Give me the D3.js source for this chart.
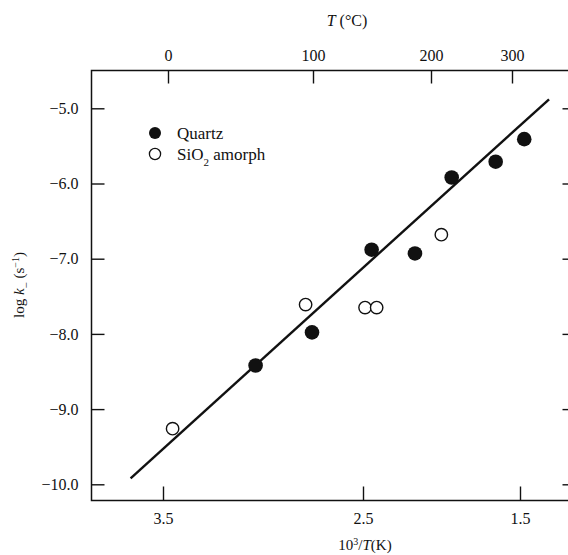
<!DOCTYPE html>
<html>
<head>
<meta charset="utf-8">
<script src="https://cdn.jsdelivr.net/npm/d3@7"></script>
<style>
  html, body { margin: 0; padding: 0; background: #fff; }
  svg text { font-family: "Liberation Serif", "DejaVu Serif", serif; fill: #111; }
</style>
</head>
<body>
<svg id="chart" width="568" height="555"></svg>
<script>
// ---------- data ----------
const quartzX = [3.037, 2.755, 2.445, 2.169, 1.935, 1.655, 1.473];
const quartzY = [-8.42, -7.98, -6.88, -6.93, -5.92, -5.71, -5.41];
const amorphX = [3.452, 2.787, 2.487, 2.413, 2.001];
const amorphY = [-9.26, -7.61, -7.65, -7.65, -6.68];
const fitX = [3.662, 1.315];
const fitY = [-9.92, -4.88];
const xTicks = [3.5, 2.5, 1.5];
const yTicks = [-5, -6, -7, -8, -9, -10];
const topTicks = [0, 100, 200, 300];
const seriesNames = ["Quartz", "SiO2 amorph"];

// ---------- layout ----------
const svg = d3.select("#chart");
const frame = { left: 91.5, right: 569.5, top: 70.5, bottom: 500.5 };

const x = d3.scaleLinear().domain([3.5, 2.5, 1.5]).range([163, 363, 520]);
const xTop = d3.scaleLinear().domain([0, 100, 200, 300]).range([168, 313, 431, 512]);
const y = d3.scaleLinear().domain([-5, -10]).range([108.3, 484.3]);

// frame
svg.append("rect")
  .attr("x", frame.left).attr("y", frame.top)
  .attr("width", frame.right - frame.left).attr("height", frame.bottom - frame.top)
  .attr("fill", "none").attr("stroke", "#111").attr("stroke-width", 1.5);

const fontSize = 16;
function styleAxis(g) {
  g.select(".domain").remove();
  g.selectAll(".tick line").attr("stroke", "#111").attr("stroke-width", 1.4);
  g.selectAll(".tick text").attr("font-size", fontSize).attr("fill", "#111")
    .attr("font-family", "Liberation Serif, serif");
}

// left axis
svg.append("g").attr("transform", `translate(${frame.left},0)`)
  .call(d3.axisLeft(y).tickValues(yTicks).tickSize(-13).tickPadding(13).tickFormat(d3.format(".1f")))
  .call(styleAxis);
// right axis (ticks only)
svg.append("g").attr("transform", `translate(${frame.right},0)`)
  .call(d3.axisRight(y).tickValues(yTicks).tickSize(-7).tickFormat(""))
  .call(styleAxis);
// bottom axis
svg.append("g").attr("transform", `translate(0,${frame.bottom})`)
  .call(d3.axisBottom(x).tickValues(xTicks).tickSize(-14).tickPadding(12).tickFormat(d3.format(".1f")))
  .call(styleAxis);
// top axis
svg.append("g").attr("transform", `translate(0,${frame.top})`)
  .call(d3.axisTop(xTop).tickValues(topTicks).tickSize(-13).tickPadding(10).tickFormat(d3.format("d")))
  .call(styleAxis);

// axis titles
const tTop = svg.append("text").attr("x", 347).attr("y", 26)
  .attr("text-anchor", "middle").attr("font-size", fontSize);
tTop.append("tspan").attr("font-style", "italic").text("T");
tTop.append("tspan").text(" (°C)");

const tBot = svg.append("text").attr("x", 365).attr("y", 550)
  .attr("text-anchor", "middle").attr("font-size", fontSize - 1);
tBot.append("tspan").text("10");
tBot.append("tspan").attr("baseline-shift", "super").attr("font-size", 10).text("3");
tBot.append("tspan").text("/");
tBot.append("tspan").attr("font-style", "italic").text("T");
tBot.append("tspan").text("(K)");

const tLeft = svg.append("text")
  .attr("transform", "translate(24,285) rotate(-90)")
  .attr("text-anchor", "middle").attr("font-size", fontSize - 1);
tLeft.append("tspan").text("log ");
tLeft.append("tspan").attr("font-style", "italic").text("k");
tLeft.append("tspan").attr("baseline-shift", "sub").attr("font-size", 11).text("\u2212");
tLeft.append("tspan").text(" (s");
tLeft.append("tspan").attr("baseline-shift", "super").attr("font-size", 10).text("\u22121");
tLeft.append("tspan").text(")");

// fit line
const fitData = fitX.map((v, i) => [v, fitY[i]]);
svg.append("path")
  .attr("d", d3.line().x(d => x(d[0])).y(d => y(d[1]))(fitData))
  .attr("fill", "none").attr("stroke", "#111").attr("stroke-width", 2.4);

// points
const quartz = quartzX.map((v, i) => ({ x: v, y: quartzY[i] }));
const amorph = amorphX.map((v, i) => ({ x: v, y: amorphY[i] }));

svg.append("g").selectAll("circle").data(amorph).join("circle")
  .attr("cx", d => x(d.x)).attr("cy", d => y(d.y)).attr("r", 6.2)
  .attr("fill", "#fff").attr("stroke", "#111").attr("stroke-width", 1.4);
svg.append("g").selectAll("circle").data(quartz).join("circle")
  .attr("cx", d => x(d.x)).attr("cy", d => y(d.y)).attr("r", 7.3)
  .attr("fill", "#111");

// legend
const legend = svg.append("g").attr("transform", "translate(155,133)");
legend.append("circle").attr("cx", 0).attr("cy", 0).attr("r", 6).attr("fill", "#111");
legend.append("circle").attr("cx", 0).attr("cy", 21).attr("r", 5.6)
  .attr("fill", "#fff").attr("stroke", "#111").attr("stroke-width", 1.3);
legend.append("text").attr("x", 22).attr("y", 6).attr("font-size", 17).text(seriesNames[0]);
const l2 = legend.append("text").attr("x", 22).attr("y", 27).attr("font-size", 17);
l2.append("tspan").text("SiO");
l2.append("tspan").attr("baseline-shift", "sub").attr("font-size", 11).text("2");
l2.append("tspan").text(" amorph");
</script>
</body>
</html>
